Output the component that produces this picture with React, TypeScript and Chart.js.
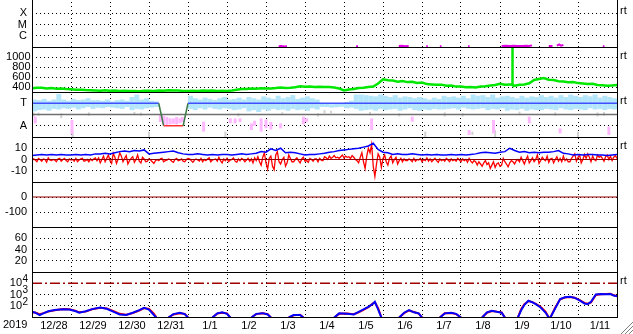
import React, { useEffect, useRef } from 'react';
import { Chart, registerables } from 'chart.js';

Chart.register(...registerables);

const W = 633;
const H = 334;
const FONT = "'Liberation Sans', Arial, sans-serif";

// time axis: hours since 2019-12-28 00:00 (15 days)
const HOUR_MIN = 0;
const HOUR_MAX = 360;
const yearLabel = '2019';
const dayLabels = ['12/28', '12/29', '12/30', '12/31', '1/1', '1/2', '1/3', '1/4', '1/5', '1/6', '1/7', '1/8', '1/9', '1/10', '1/11'];

// ---- panel 1 : X-ray class (log flux)
const xrayTicks = [1e-4, 1e-5, 1e-6];
const xrayTickLabels = ['X', 'M', 'C'];
const xrayHours = [151.8, 153.5, 155, 156.9, 157.2, 199.4, 200.6, 200.9, 225.7, 227.5, 229.5, 231.8, 232.1, 242.6, 243.6, 243.9, 251, 252, 252.3, 268.3, 269.3, 269.6, 289, 291.5, 294, 296.5, 299, 301.5, 304, 306, 307.7, 308, 318, 320.3, 320.6, 323, 324.5, 325.5, 327, 327.3, 351.3, 352.3, 352.6];
const xrayFlux = [1.15e-7, 1.2e-7, 1.1e-7, 1.15e-7, null, 1.15e-7, 1.15e-7, null, 1.2e-7, 1.3e-7, 1.15e-7, 1.2e-7, null, 1.15e-7, 1.15e-7, null, 1.15e-7, 1.15e-7, null, 1.15e-7, 1.15e-7, null, 1.2e-7, 1.3e-7, 1.25e-7, 1.3e-7, 1.2e-7, 1.25e-7, 1.3e-7, 1.25e-7, 1.4e-7, null, 1.2e-7, 1.2e-7, null, 1.3e-7, 1.7e-7, 1.3e-7, 1.5e-7, null, 1.15e-7, 1.15e-7, null];

// ---- panel 2 : solar wind speed
const speedTicks = [400, 600, 800, 1000];
const speedHours = [0, 3, 6, 9, 12, 15, 18, 21, 24, 27, 30, 33, 36, 39, 42, 45, 48, 51, 54, 57, 60, 63, 66, 69, 72, 75, 78, 81, 84, 87, 90, 93, 96, 99, 102, 105, 108, 111, 114, 117, 120, 123, 126, 129, 132, 135, 138, 141, 144, 147, 150, 153, 156, 159, 162, 165, 168, 171, 174, 177, 180, 183, 186, 189, 192, 195, 198, 201, 204, 207, 210, 213, 216, 219, 222, 225, 228, 231, 234, 237, 240, 243, 246, 249, 252, 255, 258, 261, 264, 267, 270, 273, 276, 279, 282, 285, 288, 291, 294, 295.4, 295.6, 295.8, 297, 300, 303, 306, 309, 312, 315, 318, 321, 324, 327, 330, 333, 336, 339, 342, 345, 348, 351, 354, 357, 360];
const speedValues = [373, 385, 387, 372, 378, 365, 370, 358, 356, 345, 344, 338, 335, 330, 327, 333, 324, 328, 320, 323, 318, 322, 316, 324, 327, 320, 329, 325, 335, 328, 330, 322, 320, 326, 321, 330, 326, 331, 320, 324, 322, 330, 345, 362, 358, 370, 366, 376, 368, 372, 378, 390, 380, 386, 395, 415, 404, 410, 400, 406, 398, 402, 388, 372, 330, 348, 362, 378, 384, 398, 408, 470, 553, 535, 528, 505, 518, 498, 505, 482, 488, 458, 452, 444, 447, 425, 430, 408, 412, 395, 398, 392, 410, 415, 430, 440, 465, 445, 452, 450, 1200, 440, 427, 445, 450, 475, 540, 560, 578, 545, 538, 515, 512, 495, 498, 478, 472, 458, 465, 440, 437, 425, 432, 440];

// ---- panel 3 : IMF sector (T = toward, A = away)
const sectorTicks = [270, 90];
const sectorTickLabels = ['T', 'A'];
const TOWARD_STEP = 3; // hours per sample
const towardRanges = [
  [205, 300], [215, 295], [220, 305], [210, 290], [225, 300], [220, 345],
  [230, 300], [225, 290], [235, 305], [220, 295], [230, 300], [240, 310], [225, 295],
  [235, 295], [230, 290], [240, 300], [235, 285], [230, 295], [225, 300], [240, 290],
  [215, 320], [225, 340], [220, 300], [230, 310], [235, 290], [240, 285],
  null, null, null, null, null, null,
  [225, 330], [215, 310], [230, 300], [220, 315], [235, 305], [225, 295], [220, 310], [230, 320], [225, 300], [215, 305], [220, 315], [230, 300],
  [205, 320], [215, 310], [200, 300], [220, 325], [210, 315], [225, 305],
  [215, 330], [220, 310], [210, 320], [225, 335], [215, 305], [220, 315], [210, 325], [230, 310], [220, 300], [240, 270],
  [240, 265], [235, 262], [238, 268], [242, 270],
  [230, 280], [235, 290], [225, 340],
  [210, 340], [215, 335], [220, 330], [210, 325], [225, 340],
  [215, 330], [220, 320], [225, 335], [210, 315], [220, 325], [230, 320], [215, 310],
  [210, 320], [220, 310], [215, 300], [225, 315], [220, 305],
  [220, 330], [225, 320], [230, 325], [220, 315], [235, 330], [225, 310],
  [220, 340], [225, 330], [230, 335], [215, 320], [225, 340], [220, 315], [230, 325],
  [210, 330], [220, 320], [215, 310], [225, 330], [210, 315], [220, 325], [215, 320],
  [215, 335], [225, 320], [220, 330], [215, 315], [230, 335], [220, 320],
  [215, 340], [225, 330], [220, 320], [215, 335], [230, 325], [220, 340], [225, 315],
  [215, 330], [225, 320], [220, 310],
];
const awayHours = [2, 24.6, 79, 81, 83, 85, 87, 89, 91, 92.5, 105.6, 122, 125, 128, 135, 137, 141, 144, 147, 153, 167, 169, 209, 234, 269, 284, 306, 325, 355];
const awayLow = [109, 21, 120, 100, 96, 101, 105, 100, 110, 120, 43, 110, 109, 120, 56, 90, 43, 70, 60, 69, 101, 120, 56, 123, 16, 29, 109, 29, 16];
const awayHigh = [163, 136, 176, 170, 160, 150, 149, 160, 150, 160, 123, 150, 149, 150, 109, 130, 149, 140, 120, 109, 163, 150, 149, 163, 56, 136, 163, 69, 83];
const neutralHours = [1, 4, 18, 25, 35, 63, 67, 72, 80, 119, 127, 154, 176, 180, 184, 208, 226, 242, 254, 265, 271, 285, 300, 322, 336, 348, 352];
const neutralLow = [163, 170, 150, 0, 170, 175, 170, 0, 150, 0, 165, 175, 165, 189, 190, 175, 165, 0, 165, 165, 16, 0, 175, 170, 0, 165, 170];
const neutralHigh = [197, 195, 190, 43, 197, 200, 195, 43, 180, 43, 190, 197, 190, 216, 210, 200, 190, 43, 197, 190, 43, 56, 203, 197, 43, 197, 200];
const polarityHours = [0, 78, 81, 93, 96, 360];
const polarityValues = [270, 270, 90, 90, 270, 270];
const sectorMid = 180;

// ---- panel 4 : Bt / Bz (nT)
const bzTicks = [10, 0, -10];
const BT_STEP = 3;
const btValues = [3.5, 4, 4.5, 4, 4.5, 4, 4.5, 4, 4, 4.5, 4, 4.5, 4, 5, 5, 5.5, 5, 6, 7, 7.5, 7, 8, 7.5, 8.5, 5, 5.5, 6, 6.5, 7, 7.5, 6, 5, 4.5, 4.5, 5, 4.5, 4, 4.5, 4, 4.5, 4.5, 4, 4.5, 5, 4.5, 5, 5.5, 7, 6.5, 9.5, 8, 10, 6, 6.5, 6, 5, 4, 4.5, 4.5, 5, 5.5, 6.5, 7, 8, 8.5, 9, 9.5, 10, 11, 12, 14.5, 9, 6.5, 6, 4.5, 5, 4.5, 4.5, 5, 4.5, 4, 4.5, 4, 4.5, 4, 4, 4.5, 4, 4.5, 4, 4.5, 5, 6, 6.5, 6, 5.5, 6.5, 7, 10, 8, 6.5, 7, 6, 6.5, 6, 6.5, 6.5, 7, 8, 5.5, 5, 4, 4.5, 4, 4.5, 4.5, 4, 4, 3.5, 4, 4.5];
const BZ_STEP = 1;
const bzValues = [
  -1, 0.5, -0.5, -2, 1, 0, -1.5, 0.5, 0, -2.5, 1.5, -0.5, -1, 0, -0.5, -2, 0.5, 1, -1.5, 0, 1, -1, -2, 0.5, -0.5, 0, -1.5, 1, -2, -0.5, 0.5, 1, -1.5, -1, 0, -2, 0.5, -1, 0.5, 1.5, -1,
  1.5, -3, 0, 3, -2, 1, 4, -1, -3.5, 5.5, 2, -3.5, 0.5, 6, 3, -2, 1, 3.5, -4, -1, 1, 2.5, -2.5, 0, 4, -1.5, -3, 2, 0.5, -2,
  -1.5, 0.5, -0.5, -2, -3.5, -1, 0, -1, 0.5, 1, -2, -1, -0.5, 0.5, 0, -1.5, -2.5, 0, 1, -1, -0.5, 0.5, -1.5, -2, 0, 1, 0.5, -1, -2.5, -0.5,
  0.5, -0.5, -1.5, 1, -2, 0, -1, 0.5, 1.5, -2, -0.5, 0, 0.5, -1.5, 2, -1, -3, 0.5, -1, 1, -2, -0.5, 0, 1.5, -1.5, -2.5, 0.5, -1, 1, 0,
  -2, -0.5, 1, -1.5, 0.5, -3, 1.5, -1, 2.5, -2,
  -5, 2, 6, -3, -8.5, 1, 3, -6, -9, 4, 7, -2, -4, 0, 2, -6, -3, 4, 1, -2,
  -2, 0, 1.5, -1, -3, 0.5, 2, -1.5, -1, -2.5, 1, 0, -1.5, 0.5, 0.5, -2, 1, -0.5, -1, 2.5, 1.5, 0, 3, 1, 2, 3.5, 1.5, 2, 1, 2.5, 4, 1.5, 3, 2, 2.5, 1, 3.5, 2, 0, -1,
  -3, 2, 6, -2, -8, 3, 10, 6, 13.5, -6, -15, -4, 5, 2, -7, 1,
  4, -2, -5, 1, 3, -3, 0, 2, -4, -1, 1, -2, 0.5, -1,
  -1, 0.5, -0.5, -2, 1, -1.5, 0, -0.5, 1, -2, 0, -1, 1.5, -1.5, 0.5, -2, -0.5, 1, -1, -2.5, 0.5, -1, 0, -1.5, 1, -0.5, -2, 0.5, -1, 0, -1.5, 1, -0.5, -2, 0.5, -1, 0, -2.5, 1, -1.5,
  -3, -1, -2, -5, -2, -4, -6, -3, -1, -4.5, -3, -8, -5, -2, -7, -4, -3, -6, -5, 1, -2, -4, -6.5, -3, -1, -2, -4, -1, 0, -2,
  2, -1, -4, 0, 3, -3, -1, 1.5, -2, 0, 4, -3.5, -1, 2, 0, -1, 3, -2.5, 0.5, 1, -3, 0, 2.5, -1.5, 1, -2, 3, -1, 0.5, -2,
  -2, 1, 3, 5, -1.5, 2, 4, -3, 0, 4.5, 1, 5, 2, -2, 3, 0, -1, 4, 2, 3, 1, -1.5, 2.5, 4, 0, 3, -1, 2, 3.5, 1,
];

// ---- panel 5 : Dst (nT)
const dstTicks = [0, -100];
const dstLevel = 0;

// ---- panel 6 : Kp-like index
const kpTicks = [60, 40, 20];

// ---- panel 7 : particle flux (log)
const fluxTicks = [1e4, 1e3, 1e2];
const fluxAlertLevel = 1e4;
const fluxHours = [0, 2, 4.7, 7, 10, 14, 19, 23, 27, 29, 33, 37, 42, 46, 51, 54, 58, 62, 66, 69, 72, 75, 76.5, 80, 84, 87, 91, 94, 96, 100, 111, 114, 117, 120, 122, 128, 135, 138, 142, 145, 147, 152, 158, 161, 165, 167, 175, 186, 189, 194, 198, 201, 204, 207, 210, 211, 213, 215, 220, 226, 229, 232, 235, 238, 240, 245, 251, 254, 258, 261, 264, 270, 277, 280, 283, 286, 289, 291, 295, 299, 301, 303, 305.5, 308, 310, 313, 316, 318, 319, 322, 325, 328, 331, 334, 337, 340, 342, 344, 347, 350, 353, 356, 358, 360];
const fluxBlue = [29, 24, 15, 21, 32, 41, 50, 47, 32, 24, 32, 50, 71, 54, 26, 17, 15, 24, 41, 66, 45, 15, 9, null, 9, 18, 24, 18, 9, null, 9, 21, 26, 19, 9, null, 9, 19, 22, 17, 9, null, 9, 15, 15, 9, null, 9, 21, 19, 17, 29, 47, 81, 160, 224, 47, 9, null, 9, 24, 41, 26, 21, 9, null, 9, 21, 24, 19, 9, null, 9, 26, 36, 29, 24, 9, null, 9, 40, 120, 280, 200, 140, 70, 25, 9, 9, 60, 400, 560, 630, 500, 300, 160, 140, 220, 1000, 1100, 1050, 1100, 800, 700];
const fluxRed = [27, 25, 18, 22, 30, 40, 52, 48, 35, 26, 30, 48, 66, 58, 30, 19, 16, 22, 38, 62, 52, 20, 9, null, 9, 17, 22, 19, 9, null, 9, 20, 24, 21, 9, null, 9, 18, 21, 18, 9, null, 9, 14, 16, 9, null, 9, 19, 20, 18, 26, 42, 75, 170, 200, 60, 9, null, 9, 22, 38, 28, 20, 9, null, 9, 22, 23, 18, 9, null, 9, 24, 34, 30, 25, 9, null, 9, 50, 140, 260, 210, 150, 80, 30, 9, 9, 70, 380, 540, 600, 520, 320, 180, 150, 200, 900, 1050, 1100, 1150, 850, 720];

// panels, top to bottom
const panels = [
  { id: 'pXray', log: true, min: 1e-7, max: 1e-3, ticks: xrayTicks, labels: xrayTickLabels, pad: 5, rt: 'rt' },
  { id: 'pSpeed', log: false, min: 300, max: 1200, ticks: speedTicks, labels: null, pad: 1.5, rt: 'rt' },
  { id: 'pSector', log: false, min: 0, max: 360, ticks: sectorTicks, labels: sectorTickLabels, pad: 5, rt: 'rt', hideGrid: [270] },
  { id: 'pBz', log: false, min: -20, max: 20, ticks: bzTicks, labels: null, pad: 5, rt: 'rt' },
  { id: 'pDst', log: false, min: -200, max: 100, ticks: dstTicks, labels: null, pad: 5, rt: '' },
  { id: 'pKp', log: false, min: 0, max: 80, ticks: kpTicks, labels: null, pad: 5, rt: '' },
  { id: 'pFlux', log: true, min: 10, max: 1e5, ticks: fluxTicks, labels: ['10', '10', '10'], pad: 10, rt: 'rt', hideGrid: [1e4] },
];

const pts = (xs: number[], ys: (number | null)[]) => xs.map((x, i) => ({ x, y: ys[i] }));

function panelAxis(p: any) {
  return {
    type: p.log ? 'logarithmic' : 'linear',
    position: 'left',
    stack: 'panels',
    stackWeight: 1,
    offset: false,
    min: p.min,
    max: p.max,
    grid: {
      drawTicks: false,
      lineWidth: 1,
      color: (c: any) => (p.hideGrid && c.tick && p.hideGrid.includes(c.tick.value) ? 'rgba(0,0,0,0)' : '#000'),
    },
    border: { display: false, dash: [1, 3] },
    ticks: {
      color: '#000',
      font: { family: FONT, size: 11 },
      padding: p.pad,
      autoSkip: false,
      maxRotation: 0,
      callback: (v: any, i: number) => (p.labels ? p.labels[i] : String(v)),
    },
    afterBuildTicks: (s: any) => {
      s.ticks = p.ticks.map((v: number) => ({ value: v }));
    },
    afterFit: (s: any) => {
      s.width = 32;
      s.paddingTop = 0;
      s.paddingBottom = 0;
    },
  };
}

const decorPlugin = {
  id: 'decor',
  afterDraw(chart: any) {
    const ctx = chart.ctx;
    const a = chart.chartArea;
    ctx.save();
    ctx.strokeStyle = '#000';
    ctx.lineWidth = 1;
    ctx.beginPath();
    panels.forEach((p) => {
      const s = chart.scales[p.id];
      const y = Math.round(s.bottom) + 0.5;
      ctx.moveTo(a.left, y);
      ctx.lineTo(a.right + 1, y);
    });
    const lx = Math.round(a.left) + 0.5;
    const rx = Math.round(a.right) + 0.5;
    ctx.moveTo(lx, 0);
    ctx.lineTo(lx, a.bottom + 1);
    ctx.moveTo(rx, 0);
    ctx.lineTo(rx, a.bottom + 1);
    ctx.stroke();

    ctx.fillStyle = '#000';
    ctx.font = `11px ${FONT}`;
    ctx.textAlign = 'left';
    ctx.textBaseline = 'middle';
    panels.forEach((p) => {
      if (p.rt) ctx.fillText(p.rt, a.right + 3, chart.scales[p.id].top + 9);
    });
    ctx.textBaseline = 'top';
    ctx.fillText(yearLabel, 3, a.bottom + 2);

    // exponents of the log flux tick labels
    const fs = chart.scales.pFlux;
    ctx.font = `10px ${FONT}`;
    ctx.textBaseline = 'middle';
    fluxTicks.forEach((v) => {
      ctx.fillText(String(Math.round(Math.log10(v))), 22.5, fs.getPixelForValue(v) - 4);
    });

    // window resize grip
    ctx.lineWidth = 1;
    [0, 4, 8].forEach((k) => {
      ctx.strokeStyle = '#808080';
      ctx.beginPath();
      ctx.moveTo(621 + k, 334);
      ctx.lineTo(633, 322 + k);
      ctx.stroke();
      ctx.strokeStyle = '#ffffff';
      ctx.beginPath();
      ctx.moveTo(622 + k, 334);
      ctx.lineTo(633, 323 + k);
      ctx.stroke();
    });
    ctx.restore();
  },
};

export default function App() {
  const ref = useRef<HTMLCanvasElement>(null);

  useEffect(() => {
    const canvas = ref.current;
    if (!canvas) return;

    const scales: any = {
      x: {
        type: 'linear',
        position: 'bottom',
        min: HOUR_MIN,
        max: HOUR_MAX,
        offset: false,
        grid: { color: '#000', lineWidth: 1, drawTicks: false, offset: false },
        border: { display: false, dash: [1, 3] },
        ticks: { display: false },
        afterBuildTicks: (s: any) => {
          s.ticks = dayLabels.slice(1).map((_, i) => ({ value: (i + 1) * 24 }));
        },
        afterFit: (s: any) => {
          s.height = 0;
          s.paddingLeft = 0;
          s.paddingRight = 0;
        },
      },
      xLab: {
        type: 'linear',
        position: 'bottom',
        min: HOUR_MIN,
        max: HOUR_MAX,
        offset: false,
        grid: { display: false, drawTicks: false },
        border: { display: false },
        ticks: {
          color: '#000',
          font: { family: FONT, size: 11 },
          padding: 2,
          autoSkip: false,
          maxRotation: 0,
          callback: (_v: any, i: number) => dayLabels[i],
        },
        afterBuildTicks: (s: any) => {
          s.ticks = dayLabels.map((_, i) => ({ value: i * 24 + 13.5 }));
        },
        afterFit: (s: any) => {
          s.height = 17;
          s.paddingLeft = 0;
          s.paddingRight = 0;
        },
      },
    };
    [...panels].reverse().forEach((p) => {
      scales[p.id] = panelAxis(p);
    });

    const barBase = { type: 'bar', yAxisID: 'pSector', grouped: false, borderWidth: 0, inflateAmount: 0 };
    const lineBase = { type: 'line', pointRadius: 0, borderJoinStyle: 'miter', spanGaps: false, fill: false };

    const datasets: any[] = [
      { ...lineBase, label: 'xray', yAxisID: 'pXray', data: pts(xrayHours, xrayFlux), borderColor: '#e000e0', borderWidth: 2, order: 1 },
      { ...lineBase, label: 'speed', yAxisID: 'pSpeed', data: pts(speedHours, speedValues), borderColor: '#00e800', borderWidth: 2.5, order: 1 },
      {
        ...barBase, label: 'neutral', barThickness: 2, backgroundColor: '#d2d2d2', order: 9,
        data: neutralHours.map((h, i) => ({ x: h, y: [neutralLow[i], neutralHigh[i]] })),
      },
      {
        ...barBase, label: 'toward', barThickness: 5, backgroundColor: '#b4e6fb', order: 8,
        data: towardRanges.map((r, i) => (r ? { x: i * TOWARD_STEP + 1.5, y: r } : null)).filter((d) => d),
      },
      {
        ...barBase, label: 'away', barThickness: 3, backgroundColor: '#ffb8ff', order: 7,
        data: awayHours.map((h, i) => ({ x: h, y: [awayLow[i], awayHigh[i]] })),
      },
      { ...lineBase, label: 'mid', yAxisID: 'pSector', data: [{ x: HOUR_MIN, y: sectorMid }, { x: HOUR_MAX, y: sectorMid }], borderColor: '#707070', borderWidth: 1.5, order: 6 },
      {
        ...lineBase, label: 'polarity', yAxisID: 'pSector', data: pts(polarityHours, polarityValues), borderWidth: 1.5, order: 5,
        borderColor: '#4050ff',
        segment: {
          borderColor: (c: any) => {
            const a = c.p0.parsed.y;
            const b = c.p1.parsed.y;
            if (a !== b) return '#3d7a46';
            return a > sectorMid ? '#4050ff' : '#ff3030';
          },
        },
      },
      { ...lineBase, label: 'bz0', yAxisID: 'pBz', data: [{ x: HOUR_MIN, y: 0 }, { x: HOUR_MAX, y: 0 }], borderColor: '#900000', borderWidth: 1, order: 1 },
      { ...lineBase, label: 'bt', yAxisID: 'pBz', data: btValues.map((v, i) => ({ x: i * BT_STEP, y: v })), borderColor: '#0000ff', borderWidth: 1.5, order: 2 },
      { ...lineBase, label: 'bz', yAxisID: 'pBz', data: bzValues.map((v, i) => ({ x: i * BZ_STEP, y: v })), borderColor: '#ff0000', borderWidth: 1.3, order: 3 },
      { ...lineBase, label: 'dst', yAxisID: 'pDst', data: [{ x: HOUR_MIN, y: dstLevel }, { x: HOUR_MAX, y: dstLevel }], borderColor: '#900000', borderWidth: 1, order: 1 },
      { ...lineBase, label: 'kp', yAxisID: 'pKp', data: [], borderColor: '#000', order: 1 },
      { ...lineBase, label: 'alert', yAxisID: 'pFlux', data: [{ x: HOUR_MIN, y: fluxAlertLevel }, { x: HOUR_MAX, y: fluxAlertLevel }], borderColor: '#a00000', borderWidth: 1.5, borderDash: [10, 3, 2, 3], order: 1 },
      { ...lineBase, label: 'fluxBlue', yAxisID: 'pFlux', data: pts(fluxHours, fluxBlue), borderColor: '#0000ff', borderWidth: 2, order: 2 },
      { ...lineBase, label: 'fluxRed', yAxisID: 'pFlux', data: pts(fluxHours, fluxRed), borderColor: '#ff0000', borderWidth: 2, order: 3 },
    ];

    const chart = new Chart(canvas, {
      type: 'line',
      data: { datasets },
      options: {
        responsive: false,
        animation: false,
        devicePixelRatio: 1,
        events: [],
        layout: { padding: { left: 0, right: 16, top: 2, bottom: 0 } },
        plugins: { legend: { display: false }, tooltip: { enabled: false }, title: { display: false } },
        elements: { point: { radius: 0 }, line: { tension: 0 } },
        scales,
      } as any,
      plugins: [decorPlugin],
    } as any);

    return () => chart.destroy();
  }, []);

  return (
    <div style={{ position: 'fixed', left: 0, top: 0, width: W, height: H, background: '#fff' }}>
      <canvas ref={ref} width={W} height={H} style={{ display: 'block', width: W, height: H }} />
    </div>
  );
}
